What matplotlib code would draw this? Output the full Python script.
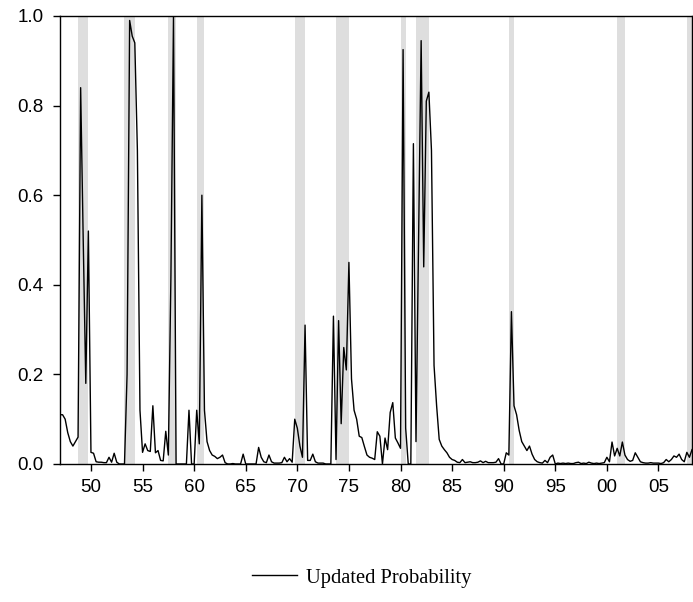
import numpy as np
import matplotlib
matplotlib.use('Agg')
import matplotlib.pyplot as plt

FIRST_YEAR = 1947

# quarterly updated recession probability, 1947Q1 .. 2008Q2 (one row per year)
prob = [
    0.11, 0.11, 0.10, 0.07,       # 1947
    0.05, 0.04, 0.05, 0.06,       # 1948
    0.84, 0.50, 0.18, 0.52,       # 1949
    0.026, 0.024, 0.005, 0.004,   # 1950
    0.004, 0.003, 0.003, 0.015,   # 1951
    0.004, 0.024, 0.004, 0.0,     # 1952
    0.0, 0.0, 0.2, 0.99,          # 1953
    0.955, 0.94, 0.7, 0.12,       # 1954
    0.026, 0.045, 0.03, 0.028,    # 1955
    0.13, 0.025, 0.03, 0.008,     # 1956
    0.007, 0.073, 0.02, 0.42,     # 1957
    1.0, 0.0, 0.0, 0.0,           # 1958
    0.0, 0.0, 0.12, 0.0,          # 1959
    0.0, 0.12, 0.045, 0.6,        # 1960
    0.12, 0.05, 0.03, 0.02,       # 1961
    0.017, 0.012, 0.015, 0.02,    # 1962
    0.003, 0.0, 0.0, 0.001,       # 1963
    0.0, 0.0, 0.0, 0.022,         # 1964
    0.0, 0.0, 0.0, 0.0,           # 1965
    0.0, 0.037, 0.015, 0.005,     # 1966
    0.003, 0.02, 0.005, 0.002,    # 1967
    0.002, 0.002, 0.003, 0.015,   # 1968
    0.005, 0.012, 0.004, 0.1,     # 1969
    0.08, 0.04, 0.015, 0.31,      # 1970
    0.008, 0.008, 0.022, 0.005,   # 1971
    0.002, 0.002, 0.002, 0.0,     # 1972
    0.0, 0.0, 0.33, 0.01,         # 1973
    0.32, 0.09, 0.26, 0.21,       # 1974
    0.45, 0.19, 0.12, 0.1,        # 1975
    0.062, 0.059, 0.039, 0.02,    # 1976
    0.015, 0.013, 0.01, 0.072,    # 1977
    0.062, 0.0, 0.058, 0.032,     # 1978
    0.115, 0.137, 0.058, 0.047,   # 1979
    0.035, 0.925, 0.08, 0.0,      # 1980
    0.0, 0.715, 0.05, 0.5,        # 1981
    0.945, 0.44, 0.81, 0.83,      # 1982
    0.7, 0.22, 0.13, 0.055,       # 1983
    0.04, 0.032, 0.025, 0.015,    # 1984
    0.01, 0.008, 0.004, 0.003,    # 1985
    0.01, 0.003, 0.004, 0.005,    # 1986
    0.003, 0.003, 0.004, 0.007,   # 1987
    0.003, 0.006, 0.003, 0.003,   # 1988
    0.003, 0.004, 0.012, 0.0,     # 1989
    0.0, 0.025, 0.02, 0.34,       # 1990
    0.13, 0.11, 0.075, 0.05,      # 1991
    0.04, 0.03, 0.04, 0.022,      # 1992
    0.01, 0.005, 0.003, 0.002,    # 1993
    0.008, 0.003, 0.015, 0.02,    # 1994
    0.0, 0.002, 0.001, 0.002,     # 1995
    0.001, 0.002, 0.001, 0.001,   # 1996
    0.003, 0.004, 0.001, 0.002,   # 1997
    0.001, 0.004, 0.002, 0.001,   # 1998
    0.002, 0.001, 0.002, 0.003,   # 1999
    0.015, 0.005, 0.049, 0.018,   # 2000
    0.035, 0.018, 0.049, 0.02,    # 2001
    0.01, 0.006, 0.008, 0.025,    # 2002
    0.015, 0.005, 0.003, 0.002,   # 2003
    0.002, 0.003, 0.002, 0.002,   # 2004
    0.002, 0.001, 0.003, 0.01,    # 2005
    0.005, 0.01, 0.018, 0.015,    # 2006
    0.022, 0.01, 0.005, 0.026,    # 2007
    0.015, 0.032,                 # 2008
]

# NBER recessions (peak quarter, trough quarter) as fractional years
rec_start = [1948.75, 1953.25, 1957.5, 1960.25, 1969.75, 1973.75, 1980.0, 1981.5, 1990.5, 2001.0, 2007.75]
rec_end = [1949.75, 1954.25, 1958.25, 1961.0, 1970.75, 1975.0, 1980.5, 1982.75, 1991.0, 2001.75, 2008.25]

tick_years = list(range(1950, 2006, 5))
tick_labels = ['%02d' % (y % 100) for y in tick_years]

dates = FIRST_YEAR + np.arange(len(prob)) / 4.0

fig = plt.figure(figsize=(6.93, 6.02), dpi=100)
ax = fig.add_axes([60 / 693, 1 - 464 / 602, 632 / 693, 448 / 602])

for s, e in zip(rec_start, rec_end):
    ax.axvspan(s, e, color='#dedede', lw=0, zorder=0)

line, = ax.plot(dates, prob, color='black', lw=1.0, zorder=2)

ax.set_xlim(dates[0], dates[-1])
ax.set_ylim(0, 1.0)
ax.set_xticks(tick_years)
ax.set_xticklabels(tick_labels)
ax.set_yticks(np.arange(0, 1.01, 0.2))
ax.set_yticklabels(['%.1f' % v for v in np.arange(0, 1.01, 0.2)])

for lab in ax.get_xticklabels() + ax.get_yticklabels():
    lab.set_fontfamily('Liberation Sans')
    lab.set_fontsize(13.5)
ax.tick_params(axis='both', direction='out', length=5, width=1)
ax.tick_params(axis='y', pad=7)
ax.tick_params(axis='x', pad=6)
for sp in ax.spines.values():
    sp.set_linewidth(1.0)

fig.legend([line], ['Updated Probability'], loc='center', bbox_to_anchor=(0.522, 0.04),
           frameon=False, handlelength=2.2, handletextpad=0.45,
           prop={'family': 'Liberation Serif', 'size': 14.8})

fig.savefig('out.png', dpi=100)
